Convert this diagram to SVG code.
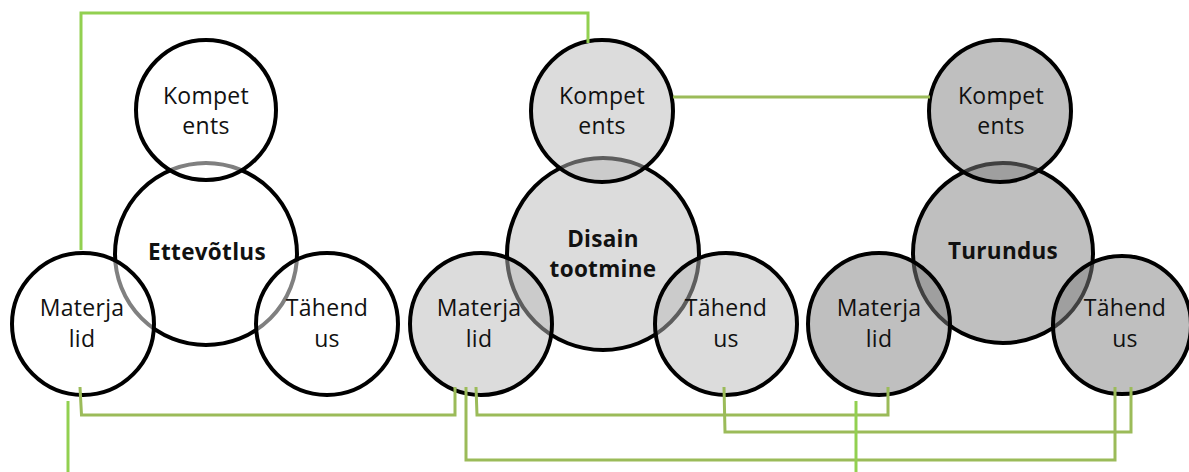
<svg xmlns="http://www.w3.org/2000/svg" width="1189" height="472" viewBox="0 0 1189 472">
<style>
.c{stroke:#000;stroke-width:4;fill-opacity:0.5}
.w{fill:#fff}
.g1{fill:#b9b9b9}
.g2{fill:#7f7f7f}
.t{font-family:"Open Sans","Liberation Sans",sans-serif;font-size:23px;fill:#111;text-anchor:middle;letter-spacing:0.3px}
.b{font-family:"Open Sans","Liberation Sans",sans-serif;font-size:22.5px;font-weight:bold;fill:#111;text-anchor:middle;letter-spacing:0.3px}
.ln{fill:none;stroke-width:3;stroke-linejoin:miter}
.br{stroke:#92d050}
.ol{stroke:#9bbb59}
</style>
<rect width="1189" height="472" fill="#fff"/>
<g id="cluster-ettevotlus">
  <g id="ettevotlus"><circle class="c w" cx="206" cy="254" r="91"/><text class="b" x="207" y="260">Ettevõtlus</text></g>
  <g id="kompetents1"><circle class="c w" cx="206" cy="110" r="70"/><text class="t" x="206" y="104">Kompet</text><text class="t" x="206" y="134">ents</text></g>
  <g id="materjalid1"><circle class="c w" cx="83" cy="324" r="71"/><text class="t" x="82" y="316">Materja</text><text class="t" x="82" y="347">lid</text></g>
  <g id="tahendus1"><circle class="c w" cx="327" cy="324" r="71"/><text class="t" x="327" y="316">Tähend</text><text class="t" x="327" y="347">us</text></g>
</g>
<g id="cluster-disain">
  <g id="disain"><circle class="c g1" cx="603" cy="254" r="96"/><text class="b" x="603" y="247">Disain</text><text class="b" x="603" y="277">tootmine</text></g>
  <g id="kompetents2"><circle class="c g1" cx="602" cy="111" r="71"/><text class="t" x="602" y="104">Kompet</text><text class="t" x="602" y="134">ents</text></g>
  <g id="materjalid2"><circle class="c g1" cx="481" cy="324" r="71"/><text class="t" x="479" y="316">Materja</text><text class="t" x="479" y="347">lid</text></g>
  <g id="tahendus2"><circle class="c g1" cx="726" cy="324" r="71"/><text class="t" x="726" y="316">Tähend</text><text class="t" x="726" y="347">us</text></g>
</g>
<g id="cluster-turundus">
  <g id="turundus"><circle class="c g2" cx="1003" cy="253" r="90"/><text class="b" x="1003" y="259">Turundus</text></g>
  <g id="kompetents3"><circle class="c g2" cx="1000" cy="111" r="71"/><text class="t" x="1001" y="104">Kompet</text><text class="t" x="1001" y="134">ents</text></g>
  <g id="materjalid3"><circle class="c g2" cx="879" cy="324" r="71"/><text class="t" x="879" y="316">Materja</text><text class="t" x="879" y="347">lid</text></g>
  <g id="tahendus3"><circle class="c g2" cx="1122" cy="325" r="69"/><text class="t" x="1125" y="316">Tähend</text><text class="t" x="1125" y="347">us</text></g>
</g>
<g id="connectors">
  <path class="ln br" d="M81,250 V13 H588 V43"/>
  <path class="ln ol" d="M673,97 H930"/>
  <path class="ln ol" d="M80,387 L81.5,415 H455 V387"/>
  <path class="ln br" d="M68,401 V472"/>
  <path class="ln ol" d="M466,387 V460 H1115 V387"/>
  <path class="ln ol" d="M476,387 L477,415 H888 V387"/>
  <path class="ln ol" d="M724,387 L725,432 H1131 V387"/>
  <path class="ln br" d="M856,401 V472"/>
</g>
</svg>
